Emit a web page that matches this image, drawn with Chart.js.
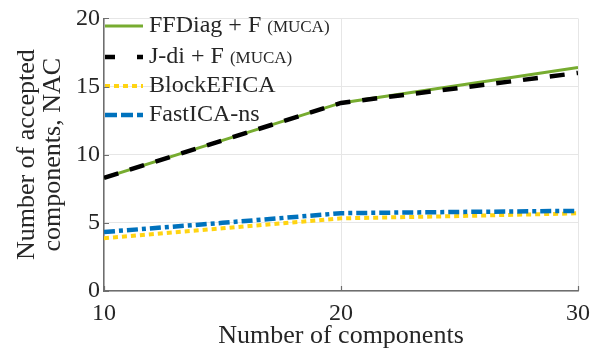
<!DOCTYPE html>
<html>
<head>
<meta charset="utf-8">
<script src="https://cdn.jsdelivr.net/npm/chart.js@4/dist/chart.umd.min.js"></script>
<style>
  html, body { margin: 0; padding: 0; background: #fff; }
  #wrap { width: 602px; height: 351px; }
</style>
</head>
<body>
<div id="wrap"><canvas id="c" width="602" height="351"></canvas></div>
<script>
// Number of components on the x axis
const components = [10, 15, 20, 25, 30];
// Number of accepted components (NAC) per method
const ffdiagF = [8.3, 11.05, 13.8, 15.1, 16.4];
const jdiF = [8.3, 11.05, 13.8, 14.9, 16.0];
const blockEfica = [3.87, 4.6, 5.33, 5.5, 5.7];
const fastIcaNs = [4.33, 5.0, 5.71, 5.8, 5.88];
const xTicks = [10, 20, 30];
const yTicks = [0, 5, 10, 15, 20];

const serif = '"Liberation Serif", "Times New Roman", serif';
const textColor = '#262626';
const axisColor = '#6e6e6e';

const series = [
  { name: 'FFDiag + F', sub: '(MUCA)', data: ffdiagF, color: '#77AC30', width: 3, dash: [], keyDash: [], order: 4 },
  { name: 'J-di + F', sub: '(MUCA)', data: jdiF, color: '#000000', width: 4.5, dash: [15, 12], keyDash: [10, 22], order: 3 },
  { name: 'BlockEFICA', sub: '', data: blockEfica, color: '#FFD412', width: 4, dash: [5, 4], keyDash: [5, 4], order: 2 },
  { name: 'FastICA-ns', sub: '', data: fastIcaNs, color: '#0072BD', width: 4.5, dash: [11, 4, 4, 4], keyDash: [12, 4], order: 1 }
];

// Short inward tick marks on both axes
const innerTicks = {
  id: 'innerTicks',
  afterDraw(chart) {
    const ctx = chart.ctx;
    const { left, bottom } = chart.chartArea;
    const xs = chart.scales.x, ys = chart.scales.y;
    ctx.save();
    ctx.strokeStyle = axisColor;
    ctx.lineWidth = 1.2;
    ctx.beginPath();
    yTicks.forEach(v => {
      const y = Math.round(ys.getPixelForValue(v)) + 0.5;
      ctx.moveTo(left, y);
      ctx.lineTo(left + 5, y);
    });
    xTicks.forEach(v => {
      const x = Math.round(xs.getPixelForValue(v)) + 0.5;
      ctx.moveTo(x, bottom);
      ctx.lineTo(x, bottom - 5);
    });
    ctx.stroke();
    ctx.restore();
  }
};

// Legend drawn inside the plot's upper-left corner, with a smaller "(MUCA)" suffix
const legendPlugin = {
  id: 'innerLegend',
  afterDatasetsDraw(chart) {
    const ctx = chart.ctx;
    const left = chart.chartArea.left + 1;
    const rows = [26, 57, 86, 115];
    ctx.save();
    series.forEach((s, i) => {
      const y = rows[i];
      ctx.beginPath();
      ctx.setLineDash(s.keyDash);
      ctx.lineWidth = s.width;
      ctx.strokeStyle = s.color;
      ctx.moveTo(left, y);
      ctx.lineTo(left + 38, y);
      ctx.stroke();
      ctx.setLineDash([]);
      ctx.fillStyle = textColor;
      ctx.textBaseline = 'middle';
      ctx.textAlign = 'left';
      ctx.font = '24px ' + serif;
      ctx.fillText(s.name, left + 44, y);
      if (s.sub) {
        const w = ctx.measureText(s.name + ' ').width;
        ctx.font = '17px ' + serif;
        ctx.fillText(s.sub, left + 44 + w, y + 2);
      }
    });
    ctx.restore();
  }
};

new Chart(document.getElementById('c'), {
  type: 'line',
  data: {
    datasets: series.map(s => ({
      label: s.name,
      data: components.map((x, i) => ({ x: x, y: s.data[i] })),
      borderColor: s.color,
      borderWidth: s.width,
      borderDash: s.dash,
      pointRadius: 0,
      tension: 0,
      fill: false,
      order: s.order
    }))
  },
  options: {
    responsive: false,
    animation: false,
    layout: { padding: { top: 17, right: 24, left: 0, bottom: 0 } },
    plugins: { legend: { display: false }, tooltip: { enabled: false } },
    scales: {
      x: {
        type: 'linear',
        min: 10, max: 30,
        afterBuildTicks(scale) { scale.ticks = xTicks.map(v => ({ value: v })); },
        afterFit(scale) { scale.height = 60; },
        grid: { color: '#e6e6e6', lineWidth: 1, drawTicks: false },
        border: { color: axisColor, width: 1.5 },
        ticks: { color: textColor, font: { family: serif, size: 24, lineHeight: 1 }, padding: 11, maxRotation: 0 },
        title: { display: true, text: 'Number of components', color: textColor, font: { family: serif, size: 26, lineHeight: 1 }, padding: { top: 0, bottom: 2 } }
      },
      y: {
        min: 0, max: 20,
        afterBuildTicks(scale) { scale.ticks = yTicks.map(v => ({ value: v })); },
        afterFit(scale) { scale.width = 104; },
        grid: { color: '#e6e6e6', lineWidth: 1, drawTicks: false },
        border: { color: axisColor, width: 1.5 },
        ticks: { color: textColor, font: { family: serif, size: 24 }, padding: 4 },
        title: { display: true, text: ['Number of accepted', 'components, NAC'], color: textColor, font: { family: serif, size: 26, lineHeight: 1 }, padding: { top: 14, bottom: 0 } }
      }
    }
  },
  plugins: [legendPlugin, innerTicks]
});
</script>
</body>
</html>
